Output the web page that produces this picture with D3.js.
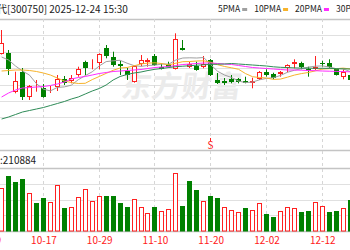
<!DOCTYPE html>
<html>
<head>
<meta charset="utf-8">
<script src="https://cdn.jsdelivr.net/npm/d3@7/dist/d3.min.js"></script>
<style>
body { margin: 0; background: #fff; overflow: hidden; }
svg { display: block; font-family: "Noto Sans CJK SC", "DejaVu Sans", sans-serif; }
</style>
</head>
<body>
<div id="chart"></div>
<script>
// trading days shown (two earlier axis days sit off the left edge)
var leadDays = ["09-29", "09-30"];
var days = ["10-09","10-10","10-13","10-14","10-15","10-16","10-17","10-20","10-21","10-22",
            "10-23","10-24","10-27","10-28","10-29","10-30","10-31","11-03","11-04","11-05",
            "11-06","11-07","11-10","11-11","11-12","11-13","11-14","11-17","11-18","11-19",
            "11-20","11-21","11-24","11-25","11-26","11-27","11-28","12-01","12-02","12-03",
            "12-04","12-05","12-08","12-09","12-10","12-11","12-12","12-15","12-16","12-17","12-18"];
var tickDays = ["09-29", "10-17", "10-29", "11-10", "11-20", "12-02", "12-12"];

var open  = [402.75,403.15,383.65,393.75,381,386.1,385.35,384.6,386.15,389.85,
             389.15,392,398.65,398.75,397.85,405.35,401.15,397.5,394.15,388.65,
             397.35,398.35,401.5,395.85,397.5,394.85,405.35,396.15,396.5,395.85,
             399.5,389.5,389.15,389.85,389.85,389.15,387.85,389.85,393.65,392.5,
             392.35,395.65,397.35,397.85,394.85,394.85,398,397.85,394.85,391.15,392];
var high  = [414.5,404.5,393.65,395.5,387,389.5,387.5,386.5,392,391.5,
             392,396.15,399.15,399.85,402.85,407,403.65,399,395.5,396.5,
             402,400.35,402.5,397.85,398.65,412.85,409.5,398.5,398.65,401.5,
             400,393,390.5,392,390.5,391.15,390.65,394,394.85,393.15,
             394,397.35,399.85,398.65,396.15,401.5,399.15,399.85,395.5,394.85,393];
var low   = [402.25,392,382.85,379.5,379.5,383.65,380.65,383,384,387,
             387.85,391.15,392,394.85,394.85,400.35,396.15,392,389.5,388.15,
             396.5,396.15,396.5,394.75,395.85,394.75,404.25,395.5,394.15,395.35,
             391.5,387.5,387,387.85,387.85,387.85,385.35,389.5,391.15,389.85,
             391.15,393.35,395.35,394.85,391.15,394.5,396.15,395.35,391.75,389.85,389];
var close = [407.85,394.85,389.15,381.15,386.65,386.4,381.15,385,389.85,387.85,
             390.65,394.85,395.35,399.25,402.5,401.5,397,396.5,392,396.5,
             399.5,399.7,397,395,396.15,409.85,404.5,397.5,394.5,397.5,
             392,387.85,387.85,388.5,388.65,388.15,389,393.65,392,390.35,
             393.65,397,398.65,396.15,394.15,396.15,397.7,395.85,392,393.65,389.5];
var volume = [542200,702200,626000,656500,478700,359400,415200,364400,584100,288300,
              308600,427900,529500,381000,448300,446000,449000,351700,308600,402500,
              308600,224800,308600,254000,275600,732700,317500,634900,520600,381000,
              444400,415200,301000,266700,237500,288300,266700,351700,212100,181600,
              254000,301000,288300,245100,254000,364400,317500,245100,254000,288300,393700];
// 1 = closed above the previous close (red hollow bar), 0 = below (green bar)
var volUp = [1,0,0,0,1,0,0,1,1,0, 1,1,1,1,1,0,0,0,0,1, 1,1,0,1,1,1,0,0,0,1,
             0,0,1,1,1,0,1,1,0,0, 1,1,1,0,0,1,1,0,0,1, 0];

var ma5  = [401,399.5,396.5,394,391.95,387.65,384.9,384.05,385.8,386.05,
            386.9,389.65,391.7,393.6,396.5,398.7,399.1,399.35,397.9,396.7,
            396.3,396.8,396.9,397.5,397.45,399.5,400.5,400.6,400.5,400.75,
            397.2,393.85,391.95,390.75,388.95,388.2,388.45,389.6,390.3,390.65,
            391.75,393.35,394.35,395.15,395.9,396.4,396.55,396,395.15,395.05,393.75];
var ma10 = [394,394.25,394.5,394.5,394.25,393.75,393,392,390.5,389,
            388.25,387.75,387.85,389.7,391.25,392.8,394.35,395.5,395.75,396.6,
            397.5,397.95,398.1,397.7,397.05,397.9,398.65,398.75,399,399.1,
            398.35,397.15,396.25,395.6,394.85,392.7,391.15,390.75,390.5,389.8,
            389.95,390.9,391.95,392.7,393.25,394.05,394.95,395.15,395.15,395.45,395.05];
var ma20 = [381,383,384.5,385.5,385.75,386,386.25,386.75,387.5,388.5,
            390,390.75,391.25,392,392.75,393.25,393.75,394,394.25,394.5,
            394.75,395.25,395.75,396,396.25,396.75,397.25,397.5,397.75,398,
            398,397.75,397.5,397.25,396.75,396.25,395.75,395.5,395.25,395,
            394.75,394.5,394.5,394.4,394.25,394.15,394,393.9,393.8,393.7,393.6];
var ma30 = [370,371,372.25,373.5,374.25,375,375.75,376.75,377.75,378.75,
            380,381,382.5,384,385.25,387,389.5,391.25,392.25,393,
            393.5,394.25,394.85,395.25,395.75,396.15,396.4,396.65,396.9,397.1,
            397.3,397.4,397.5,397.75,397.5,397.25,397,396.75,396.5,396.1,
            395.85,395.7,395.55,395.45,395.4,395.35,395.35,395.3,395.2,395.1,395];

var maNames  = ["5PMA", "10PMA", "20PMA", "30PMA"];
var maColors = ["#a0a0a0", "#f7b32b", "#ff2bff", "#2e8b57"];
var signals  = [{day: "11-20", text: "S"}];

var titleLead = "宁德时";
var titleText = "代[300750] 2025-12-24 15:30";
var volLead = "成交量";
var volText = ":210884";

var RED = "#ff2020", GREEN = "#008000";
var mainTop = 19, mainBottom = 150, volTop = 168, volBottom = 231;

var svg = d3.select("#chart").append("svg")
    .attr("width", 350).attr("height", 250);

var x = d3.scalePoint()
    .domain(leadDays.concat(days))
    .range([-12.34, 350.1]);
var y = d3.scaleLinear().domain([354.5, 420]).range([mainBottom, mainTop]);
var yv = d3.scaleLinear().domain([0, 800000]).range([volBottom, volTop]);

function px(d) { return Math.floor(x(d)) + 0.5; }

// grid
var grid = svg.append("g");
d3.range(9).forEach(function(i) {
    var gy = Math.round(mainTop + i * (mainBottom - mainTop) / 8) + 0.5;
    grid.append("line").attr("x1", 0).attr("x2", 350).attr("y1", gy).attr("y2", gy)
        .attr("stroke", (i == 0 || i == 8) ? "#c4c4c4" : "#e0e0e0")
        .attr("stroke-width", (i == 0 || i == 8) ? 1.5 : 1);
});
d3.range(5).forEach(function(i) {
    var gy = Math.round(volTop + i * (volBottom - volTop) / 4) + 0.5;
    grid.append("line").attr("x1", 0).attr("x2", 350).attr("y1", gy).attr("y2", gy)
        .attr("stroke", (i == 0 || i == 4) ? "#c4c4c4" : "#e0e0e0")
        .attr("stroke-width", (i == 0 || i == 4) ? 1.5 : 1);
});
grid.selectAll(".vgrid").data(tickDays).enter().append("line")
    .attr("x1", px).attr("x2", px)
    .attr("y1", mainTop).attr("y2", volBottom)
    .attr("stroke", "#d6d6d6").attr("stroke-dasharray", "3,3");

// watermark
svg.append("text")
    .attr("x", 122).attr("y", 97)
    .attr("transform", "skewX(-8) translate(12,0)")
    .attr("font-size", 30).attr("font-weight", "bold")
    .attr("fill", "#ebebeb")
    .text("东方财富");

// candles
var cg = svg.append("g");
days.forEach(function(d, i) {
    var c = px(d), up = close[i] >= open[i];
    var col = up ? RED : GREEN;
    cg.append("line").attr("x1", c).attr("x2", c)
        .attr("y1", y(high[i])).attr("y2", y(low[i]))
        .attr("stroke", col);
    var top = Math.round(y(Math.max(open[i], close[i])));
    var bot = Math.round(y(Math.min(open[i], close[i])));
    if (bot - top < 1) bot = top + 1;
    if (up) {
        cg.append("rect").attr("x", c - 2).attr("width", 4)
            .attr("y", top + 0.5).attr("height", Math.max(bot - top - 1, 0))
            .attr("fill", "#fff").attr("stroke", col);
    } else {
        cg.append("rect").attr("x", c - 2.5).attr("width", 5)
            .attr("y", top).attr("height", bot - top)
            .attr("fill", col);
    }
});

// moving averages
var line = d3.line()
    .x(function(d) { return x(d.day); })
    .y(function(d) { return y(d.v); });
[ma5, ma10, ma20, ma30].forEach(function(arr, k) {
    svg.append("path")
        .datum(days.map(function(d, i) { return {day: d, v: arr[i]}; }))
        .attr("fill", "none")
        .attr("stroke", maColors[k])
        .attr("stroke-width", 1)
        .attr("d", line);
});

// signal marks
signals.forEach(function(s) {
    svg.append("line").attr("x1", px(s.day)).attr("x2", px(s.day))
        .attr("y1", 138).attr("y2", 141).attr("stroke", RED);
    svg.append("text").attr("x", px(s.day)).attr("y", 149)
        .attr("text-anchor", "middle").attr("font-size", 10)
        .attr("fill", RED).text(s.text);
});

// volume bars
var vg = svg.append("g");
days.forEach(function(d, i) {
    var c = px(d);
    var top = Math.round(yv(volume[i]));
    if (volUp[i]) {
        vg.append("rect").attr("x", c - 2).attr("width", 4)
            .attr("y", top + 0.5).attr("height", volBottom - top - 0.5)
            .attr("fill", "#fff").attr("stroke", RED);
    } else {
        vg.append("rect").attr("x", c - 2.5).attr("width", 5)
            .attr("y", top).attr("height", volBottom - top + 0.5)
            .attr("fill", GREEN);
    }
});

// x axis labels
var xAxis = d3.axisBottom(x).tickValues(tickDays).tickSize(0).tickPadding(5);
var ax = svg.append("g")
    .attr("transform", "translate(0," + (volBottom + 1) + ")")
    .call(xAxis);
ax.select(".domain").remove();
ax.selectAll("text").attr("fill", RED).attr("font-size", 10)
    .attr("font-family", "\"Noto Sans CJK SC\", sans-serif");

// title and volume label
svg.append("text").attr("x", -3).attr("y", 12.5)
    .attr("text-anchor", "end").attr("font-size", 10).attr("fill", "#222").text(titleLead);
svg.append("text").attr("x", -3).attr("y", 12.5)
    .attr("font-size", 10).attr("fill", "#222").text(titleText);
svg.append("text").attr("x", -1).attr("y", 164)
    .attr("text-anchor", "end").attr("font-size", 10).attr("fill", "#222").text(volLead);
svg.append("text").attr("x", 0).attr("y", 164)
    .attr("font-size", 10).attr("fill", "#222").text(volText);

// legend
var lx = 218;
maNames.forEach(function(n, k) {
    var t = svg.append("text").attr("x", lx).attr("y", 12)
        .attr("font-size", 8.5).attr("fill", "#222").text(n);
    var w = t.node().getComputedTextLength();
    svg.append("rect").attr("x", lx + w + 2).attr("y", 8).attr("width", 5).attr("height", 3)
        .attr("fill", maColors[k]);
    lx += w + 2 + 5 + 7;
});
</script>
</body>
</html>
